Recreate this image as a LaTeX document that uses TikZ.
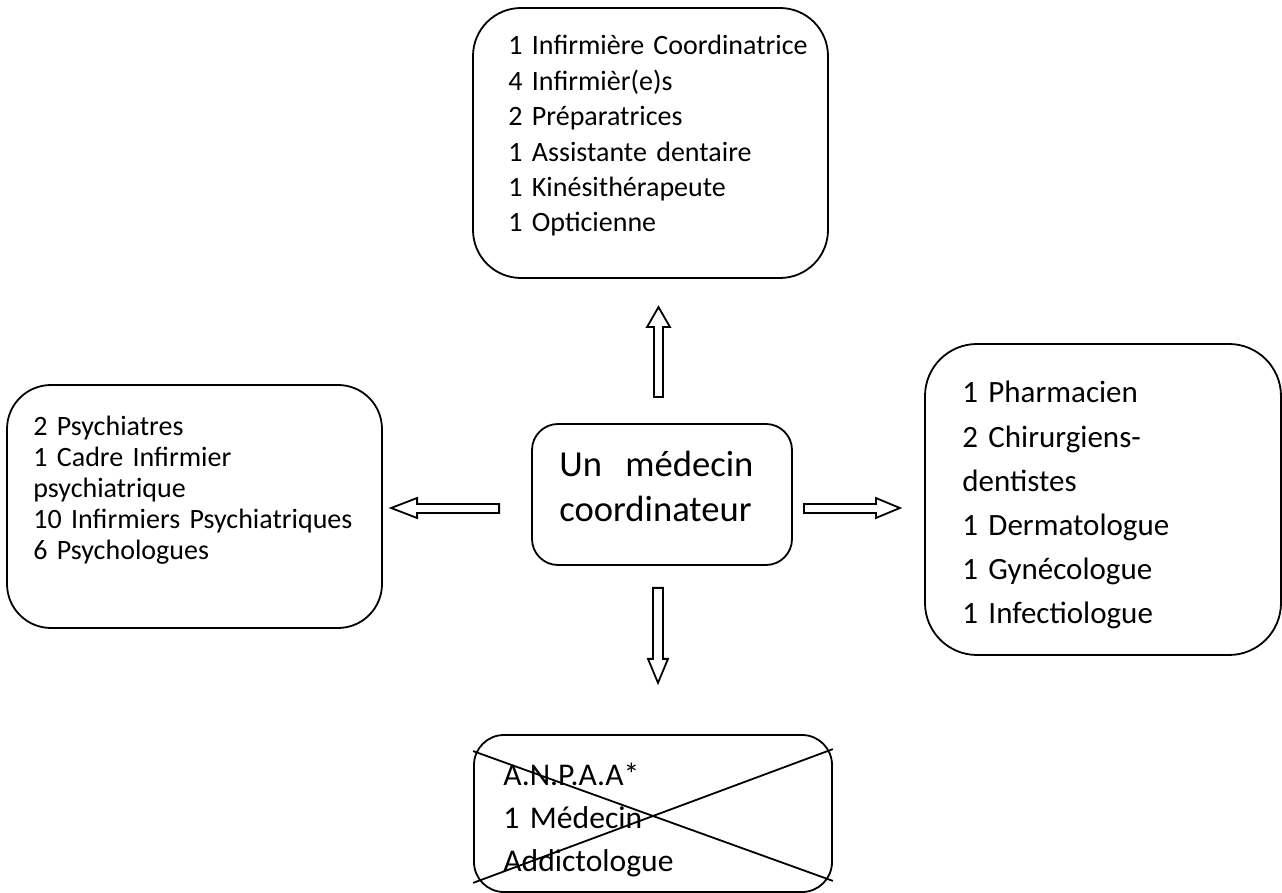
\documentclass[tikz,border=0pt]{standalone}
\usepackage{fontspec}
\setmainfont{Carlito}
\usepackage{tikz}
\usetikzlibrary{calc}
\tikzstyle{cadre} = [rectangle, draw=black, line width=0.9pt]
\tikzstyle{liste} = [anchor=base west, align=left, inner sep=0pt, text width=180pt]
\tikzstyle{fleche} = [draw=black, line width=0.9pt, line join=miter]

\begin{document}
\begin{tikzpicture}[x=0.5pt, y=-0.5pt]
	\useasboundingbox (0,0) rectangle (1282,893);
	
	\node (medecin) [cadre, rounded corners=13pt, minimum width=130pt, minimum height=70.5pt] at (662,494.5) {};
	\node (equipe) [cadre, rounded corners=24pt, minimum width=177.5pt, minimum height=135pt] at (650.5,143) {};
	\node (psy) [cadre, rounded corners=22pt, minimum width=187.5pt, minimum height=121.5pt] at (194.5,506.5) {};
	\node (specialistes) [cadre, rounded corners=26pt, minimum width=178pt, minimum height=155.5pt] at (1103,499.5) {};
	\node (anpaa) [cadre, rounded corners=15pt, minimum width=179pt, minimum height=78.5pt] at (653,813.5) {};
	
	\node (medecintxt) [liste, text width=97pt, font=\fontsize{18.3}{22.5}\selectfont] at (559,477) {Un\hfill médecin\\coordinateur};
	\node (equipetxt) [liste, font=\fontsize{14}{17.7}\selectfont] at (508,55) {1 Infirmière Coordinatrice\\4 Infirmièr(e)s\\2 Préparatrices\\1 Assistante dentaire\\1 Kinésithérapeute\\1 Opticienne};
	\node (psytxt) [liste, font=\fontsize{14}{15.4}\selectfont] at (33,436) {2 Psychiatres\\1 Cadre Infirmier\\psychiatrique\\10 Infirmiers Psychiatriques\\6 Psychologues};
	\node (specialistestxt) [liste, font=\fontsize{15.5}{22.1}\selectfont] at (962,403) {1 Pharmacien\\2 Chirurgiens-\\dentistes\\1 Dermatologue\\1 Gynécologue\\1 Infectiologue};
	\node (anpaatxt) [liste, font=\fontsize{15.8}{21.75}\selectfont] at (503,785) {A.N.P.A.A*\\1 Médecin\\Addictologue};
	
	% fleches vers les equipes
	\draw [fleche] ($(medecin.north)+(-8,-26)$) -- ++(0,-70) -- ++(-7,0) -- ++(11.5,-20) -- ++(11.5,20) -- ++(-7,0) -- ++(0,70) -- cycle;
	\draw [fleche] ($(medecin.south)+(-9,22)$) -- ++(0,71) -- ++(-5,0) -- ++(10,24) -- ++(10,-24) -- ++(-5,0) -- ++(0,-71) -- cycle;
	\draw [fleche] ($(medecin.west)+(-32,9.5)$) -- ++(-82,0) -- ++(0,-6) -- ++(-26,10) -- ++(26,10) -- ++(0,-5) -- ++(82,0) -- cycle;
	\draw [fleche] ($(medecin.east)+(11,9.5)$) -- ++(72,0) -- ++(0,-6) -- ++(24,10) -- ++(-24,10) -- ++(0,-5) -- ++(-72,0) -- cycle;
	
	% croix sur l'ANPAA
	\draw [line width=0.9pt] ($(anpaa.north west)+(0,17)$) -- ($(anpaa.south east)+(0,-12)$);
	\draw [line width=0.9pt] ($(anpaa.south west)+(0,-10)$) -- ($(anpaa.north east)+(0,15)$);
	
\end{tikzpicture}
\end{document}
